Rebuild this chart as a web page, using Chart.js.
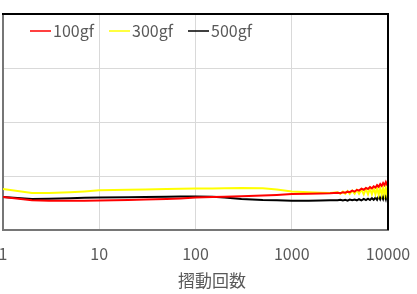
<!DOCTYPE html>
<html>
<head>
<meta charset="utf-8">
<script src="https://cdn.jsdelivr.net/npm/chart.js@4"></script>
<style>
  html, body { margin: 0; padding: 0; background: #fff; }
  #wrap { width: 417px; height: 294px; }
</style>
</head>
<body>
<div id="wrap"><canvas id="chart" width="417" height="294"></canvas></div>
<script>
// Sliding cycles (log axis) and friction readings per load
const cycles = [1, 2, 3, 5, 7, 10, 20, 30, 50, 70, 100, 150, 200, 300, 500, 700, 1000, 1500, 2000, 2500,
    3000, 3200, 3400, 3600, 3800, 4000, 4250, 4500, 4750, 5000, 5300, 5600, 5900, 6200, 6500, 6800,
    7100, 7400, 7700, 8000, 8300, 8600, 8900, 9200, 9500, 9750, 10000];

const load100 = [0.61, 0.55, 0.54, 0.54, 0.54, 0.545, 0.555, 0.565, 0.575, 0.585, 0.60, 0.61, 0.615, 0.625, 0.64, 0.65, 0.665, 0.67, 0.675, 0.68,
    0.69, 0.68, 0.70, 0.69, 0.71, 0.70, 0.73, 0.71, 0.745, 0.73, 0.765, 0.745, 0.78, 0.76, 0.795, 0.77,
    0.81, 0.785, 0.83, 0.80, 0.85, 0.815, 0.87, 0.83, 0.89, 0.845, 0.87];

const load300 = [0.76, 0.685, 0.685, 0.70, 0.715, 0.735, 0.745, 0.75, 0.76, 0.765, 0.77, 0.77, 0.775, 0.78, 0.775, 0.75, 0.715, 0.70, 0.69, 0.685,
    0.70, 0.67, 0.71, 0.67, 0.72, 0.67, 0.73, 0.67, 0.74, 0.67, 0.75, 0.66, 0.76, 0.66, 0.77, 0.66,
    0.77, 0.66, 0.78, 0.65, 0.78, 0.65, 0.78, 0.65, 0.78, 0.66, 0.74];

const load500 = [0.61, 0.575, 0.58, 0.59, 0.595, 0.60, 0.605, 0.61, 0.615, 0.62, 0.62, 0.615, 0.60, 0.575, 0.555, 0.55, 0.54, 0.54, 0.545, 0.55,
    0.55, 0.56, 0.545, 0.56, 0.545, 0.565, 0.55, 0.565, 0.55, 0.57, 0.55, 0.575, 0.555, 0.58, 0.555, 0.59,
    0.56, 0.60, 0.56, 0.62, 0.565, 0.63, 0.57, 0.65, 0.57, 0.66, 0.60];

const seriesLabels = ['100gf', '300gf', '500gf'];
const seriesColors = ['#ff0000', '#ffff00', '#000000'];
const xTicks = [1, 10, 100, 1000, 10000];
const xTitle = '摺動回数';

const FONT = "'Noto Sans CJK JP', 'Noto Sans', sans-serif";
const TEXT_COLOR = '#595959';

function toPoints(values) {
    return values.map((v, i) => ({ x: cycles[i], y: v }));
}

// Frame, inline legend and axis title
const decorPlugin = {
    id: 'decor',
    afterDraw(chart) {
        const ctx = chart.ctx;
        const area = chart.chartArea;
        ctx.save();

        // top + right frame
        ctx.strokeStyle = '#000000';
        ctx.lineWidth = 2;
        ctx.beginPath();
        ctx.moveTo(area.left - 1, area.top);
        ctx.lineTo(area.right, area.top);
        ctx.lineTo(area.right, area.bottom);
        ctx.stroke();

        // legend inside plot area
        const legendX = [30, 109, 188];
        ctx.font = '16px ' + FONT;
        ctx.textBaseline = 'middle';
        ctx.textAlign = 'left';
        seriesLabels.forEach((label, i) => {
            ctx.strokeStyle = seriesColors[i];
            ctx.lineWidth = 1.5;
            ctx.beginPath();
            ctx.moveTo(legendX[i], 31);
            ctx.lineTo(legendX[i] + 21, 31);
            ctx.stroke();
            ctx.fillStyle = TEXT_COLOR;
            ctx.fillText(label, legendX[i] + 23, 31);
        });

        // x axis title
        ctx.font = '17px ' + FONT;
        ctx.textAlign = 'center';
        ctx.fillText(xTitle, 212, 281);
        ctx.restore();
    }
};

new Chart(document.getElementById('chart'), {
    type: 'line',
    data: {
        datasets: [load100, load300, load500].map((vals, i) => ({
            label: seriesLabels[i],
            data: toPoints(vals),
            borderColor: seriesColors[i],
            backgroundColor: seriesColors[i],
            borderWidth: 2,
            pointRadius: 0,
            tension: 0,
            fill: false
        }))
    },
    options: {
        responsive: false,
        animation: false,
        layout: { padding: { top: 14, right: 29, left: 0, bottom: 0 } },
        plugins: {
            legend: { display: false },
            tooltip: { enabled: false }
        },
        scales: {
            x: {
                type: 'logarithmic',
                min: 1,
                max: 10000,
                afterBuildTicks: axis => { axis.ticks = xTicks.map(v => ({ value: v })); },
                afterFit: scale => { scale.height = 64; scale.paddingLeft = 0; scale.paddingRight = 0; },
                grid: { color: '#d9d9d9', lineWidth: 1, drawTicks: false },
                border: { color: '#767676', width: 2 },
                ticks: {
                    autoSkip: false,
                    maxRotation: 0,
                    padding: 14,
                    color: TEXT_COLOR,
                    font: { family: FONT, size: 16 },
                    callback: v => String(v)
                }
            },
            y: {
                min: 0,
                max: 4,
                afterFit: scale => { scale.width = 3; },
                grid: { color: '#d9d9d9', lineWidth: 1, drawTicks: false },
                border: { color: '#767676', width: 2 },
                ticks: { display: false, stepSize: 1 }
            }
        }
    },
    plugins: [decorPlugin]
});
</script>
</body>
</html>
